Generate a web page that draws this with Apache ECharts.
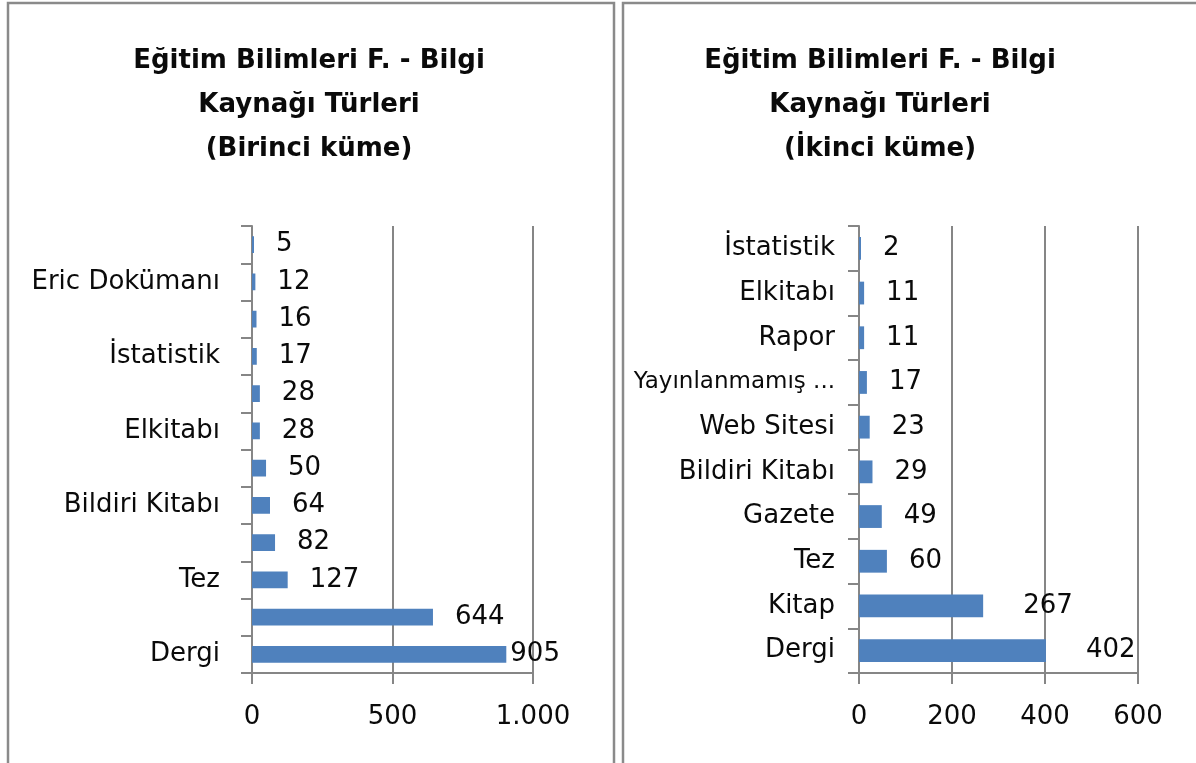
<!DOCTYPE html>
<html>
<head>
<meta charset="utf-8">
<script src="https://cdn.jsdelivr.net/npm/echarts@6/dist/echarts.min.js"></script>
<style>
  html, body { margin: 0; padding: 0; background: #fff; }
  #chart { width: 1196px; height: 763px; }
</style>
</head>
<body>
<div id="chart"></div>
<script>
  // Birinci küme (alttan üste)
  const firstCategories = ['Dergi', 'Kitap', 'Tez', 'Gazete', 'Bildiri Kitabı', 'Web Sitesi',
    'Elkitabı', 'Rapor', 'İstatistik', 'Yayınlanmamış Eser', 'Eric Dokümanı', 'Diğer']
  const firstValues = [905, 644, 127, 82, 64, 50, 28, 28, 17, 16, 12, 5]
  const firstAxis = { max: 1000, interval: 500 }

  // İkinci küme (alttan üste)
  const secondCategories = ['Dergi', 'Kitap', 'Tez', 'Gazete', 'Bildiri Kitabı', 'Web Sitesi',
    'Yayınlanmamış Eser', 'Rapor', 'Elkitabı', 'İstatistik']
  const secondValues = [402, 267, 60, 49, 29, 23, 17, 11, 11, 2]
  const secondAxis = { max: 600, interval: 200 }

  const titles = [
    'Eğitim Bilimleri F. - Bilgi\nKaynağı Türleri\n(Birinci küme)',
    'Eğitim Bilimleri F. - Bilgi\nKaynağı Türleri\n(İkinci küme)',
  ]

  const FONT = '"DejaVu Sans", sans-serif'
  const SIZE = 26
  const GRAY = '#868686'
  const BLUE = '#4f81bd'

  const fmt = (v) => String(v).replace(/\B(?=(\d{3})+(?!\d))/g, '.')

  // uzun adlar Excel'deki gibi kısaltılıyor: "Yayınlanmamış ..."
  const shortName = (name) => (name.length > 15 ? '{s|' + name.split(' ')[0] + ' ...}' : name)

  function valueAxis(idx, cfg) {
    return {
      type: 'value',
      gridIndex: idx,
      min: 0,
      max: cfg.max,
      interval: cfg.interval,
      axisLine: { show: true, lineStyle: { color: GRAY, width: 2 } },
      axisTick: { show: true, length: 11, lineStyle: { color: GRAY, width: 2 } },
      axisLabel: { margin: 31, color: '#0a0a0a', fontFamily: FONT, fontSize: SIZE, formatter: fmt },
      splitLine: { show: true, lineStyle: { color: GRAY, width: 2 } },
    }
  }

  function categoryAxis(idx, data, labelInterval, extra) {
    return {
      type: 'category',
      gridIndex: idx,
      data,
      axisLine: { show: true, lineStyle: { color: GRAY, width: 2 } },
      axisTick: { show: true, interval: 0, length: 11, lineStyle: { color: GRAY, width: 2 } },
      axisLabel: Object.assign(
        { interval: labelInterval, margin: 32, color: '#0a0a0a', fontFamily: FONT, fontSize: SIZE },
        extra
      ),
    }
  }

  function barSeries(idx, values, barWidth, labelDist) {
    return {
      type: 'bar',
      xAxisIndex: idx,
      yAxisIndex: idx,
      barWidth,
      barMinHeight: 2,
      itemStyle: { color: BLUE },
      label: {
        show: true,
        position: 'right',
        distance: 22,
        color: '#0a0a0a',
        fontFamily: FONT,
        fontSize: SIZE,
      },
      data: values.map((v) => {
        const d = labelDist(v)
        return d == null ? v : { value: v, label: { distance: d } }
      }),
    }
  }

  const chart = echarts.init(document.getElementById('chart'))
  chart.setOption({
    animation: false,
    title: [
      { text: titles[0], left: 304, top: 34 },
      { text: titles[1], left: 875, top: 34 },
    ].map((t) => Object.assign(t, {
      textAlign: 'center',
      textStyle: { fontFamily: FONT, fontSize: SIZE, fontWeight: 'bold', color: '#0a0a0a', lineHeight: 44 },
    })),
    graphic: [
      { type: 'rect', shape: { x: 8, y: 3, width: 606, height: 800 },
        style: { fill: null, stroke: '#8a8a8a', lineWidth: 2.5 } },
      { type: 'rect', shape: { x: 623, y: 3, width: 620, height: 800 },
        style: { fill: null, stroke: '#8a8a8a', lineWidth: 2.5 } },
    ],
    grid: [
      { left: 252, top: 226, width: 281, height: 447 },
      { left: 859, top: 226, width: 279, height: 447 },
    ],
    xAxis: [valueAxis(0, firstAxis), valueAxis(1, secondAxis)],
    yAxis: [
      categoryAxis(0, firstCategories, 1),
      categoryAxis(1, secondCategories, 0, {
        margin: 24,
        formatter: shortName,
        rich: { s: { fontFamily: FONT, fontSize: 23, color: '#0a0a0a' } },
      }),
    ],
    series: [
      barSeries(0, firstValues, '45%', (v) => (v > 900 ? 4 : null)),
      barSeries(1, secondValues, '51%', (v) => (v >= 100 ? 40 : null)),
    ],
  })
</script>
</body>
</html>
